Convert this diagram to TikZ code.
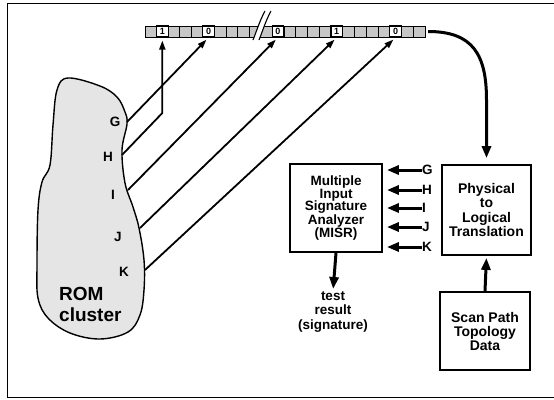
\documentclass[tikz,border=0pt]{standalone}
\usepackage{fontspec}
\setmainfont{Liberation Sans}
\usetikzlibrary{arrows.meta}
\begin{document}
\begin{tikzpicture}[x=1pt,y=-1pt,
  lbl/.style={font=\bfseries\fontsize{13.5}{13.5}\selectfont, inner sep=0pt},
  boxtxt/.style={draw, line width=1.8pt, align=center, inner sep=0pt},
  scell/.style={draw, fill=black!22, minimum width=11.55pt, minimum height=11pt, inner sep=0pt, line width=0.6pt},
  ncell/.style={scell, fill=white, line width=1.1pt, font=\bfseries\fontsize{9}{9}\selectfont},
  pinarrow/.style={line width=1.8pt, -{Triangle[length=9pt,width=6pt]}, shorten >=3pt},
  bigarrow/.style={line width=3pt, -{Triangle[length=12pt,width=9pt]}},
]
\useasboundingbox (0,0) rectangle (554,399);
% frame
\draw[line width=0.6pt] (554,3) -- (7,3) -- (7,397) -- (554,397);

% register, left part
\foreach \i/\s/\t in {0/scell/{},1/ncell/1,2/scell/{},3/scell/{},4/scell/{},5/ncell/0,6/scell/{},7/scell/{},8/scell/{},9/scell/{},10/scell/{}}
  \node[\s, name=L\i] at ({145+11.55*(\i+0.5)},31.5) {\t};
% register, right part
\foreach \i/\s/\t in {0/ncell/0,1/scell/{},2/scell/{},3/scell/{},4/scell/{},5/ncell/1,6/scell/{},7/scell/{},8/scell/{},9/scell/{},10/ncell/0,11/scell/{},12/scell/{}}
  \node[\s, name=R\i] at ({272+11.77*(\i+0.5)},31.5) {\t};
% break mark
\fill[white] (253,40) .. controls (257,30) and (260,20) .. (265,11) -- (271,11) .. controls (266,20) and (263,30) .. (259,40) -- cycle;
\draw[line width=1.1pt] (253,40) .. controls (257,30) and (260,20) .. (265,11);
\draw[line width=1.1pt] (259,40) .. controls (263,30) and (266,20) .. (271,11);

% ROM cluster
\draw[line width=1.4pt, fill=black!10] plot[smooth cycle, tension=0.6] coordinates {
 (68,78) (100,86) (117,97) (125,112) (127,124) (122,150) (125,183) (133,207)
 (139,228) (144,260) (144,290) (140,315) (128,332) (100,339) (70,333) (48,318)
 (38,298) (37,265) (38,210) (42,182) (50,165) (53,125) (57,90)};
\node[lbl] (cG) at (115,122) {G};
\node[lbl] (cH) at (108,157) {H};
\node[lbl] (cI) at (113,195) {I};
\node[lbl] (cJ) at (118,237) {J};
\node[lbl] (cK) at (124,272) {K};
\node[align=left, anchor=north west, inner sep=0pt, font=\bfseries\fontsize{19}{21}\selectfont] (rom) at (59,287) {ROM\\cluster};

% pins
\coordinate (pG) at (127,122);
\coordinate (pH) at (122,155);
\coordinate (pI) at (128,190);
\coordinate (pJ) at (140,228);
\coordinate (pK) at (145,270);
\coordinate (hbend) at (L1.south |- 0,113);

\draw[pinarrow] (pG) -- (L5.south);
\draw[pinarrow] (pH) -- (hbend) -- (L1.south);
\draw[pinarrow] (pI) -- (R0.south);
\draw[pinarrow] (pJ) -- (R5.south);
\draw[pinarrow] (pK) -- (R10.south);

% boxes
\node[boxtxt, minimum width=92pt, minimum height=88pt, font=\bfseries\fontsize{13.5}{12.6}\selectfont] (misr) at (336,208) {Multiple\\Input\\Signature\\Analyzer\\(MISR)};
\node[boxtxt, minimum width=89pt, minimum height=90pt, font=\bfseries\fontsize{14}{14.5}\selectfont] (phys) at (486.5,210) {Physical\\to\\Logical\\Translation};
\node[boxtxt, minimum width=90pt, minimum height=78pt, font=\bfseries\fontsize{14}{14}\selectfont] (scan) at (485,331) {Scan Path\\Topology\\Data};
\node[align=center, anchor=north, inner sep=0pt, font=\bfseries\fontsize{13.5}{14.5}\selectfont] (res) at (333,291) {test\\result\\(signature)};

% MISR inputs
\foreach \n/\y in {G/170,H/190,I/208,J/227,K/247}{
  \node[lbl, anchor=west] (m\n) at (422,\y) {\n};
  \draw[bigarrow, shorten >=4pt] (m\n.west) -- (misr.east |- m\n.west);
}

% other arrows
\draw[bigarrow, shorten >=2pt] (misr.south) -- (res.north);
\draw[bigarrow, shorten >=2pt] (scan.north) -- (phys.south);
\draw[bigarrow, shorten >=6pt] ([xshift=3pt]R12.east) .. controls +(45,0) and +(0,-45) .. (phys.north |- 0,100) -- (phys.north);
\end{tikzpicture}
\end{document}
